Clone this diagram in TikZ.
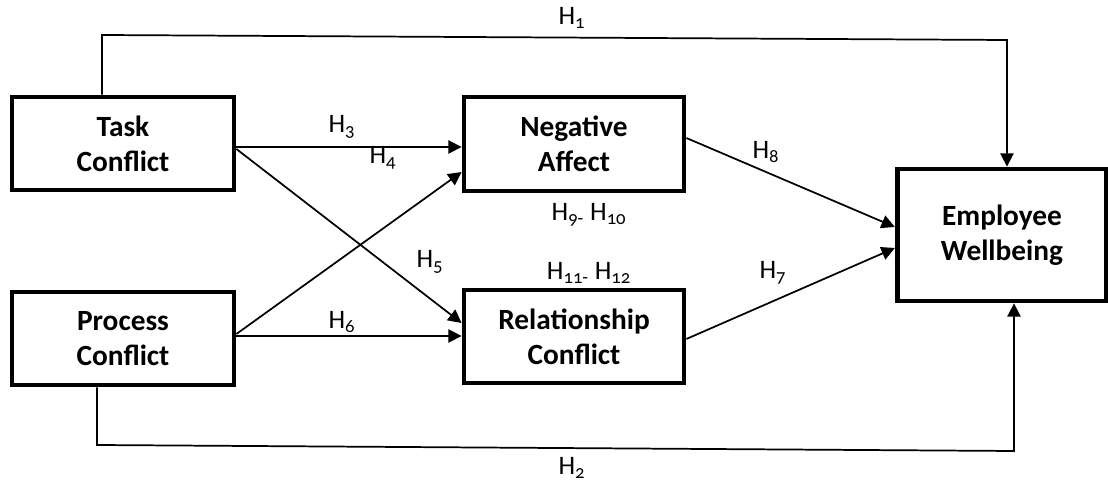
\documentclass[tikz,border=0pt]{standalone}
\usepackage{fontspec}
\setmainfont{Carlito}[Numbers=OldStyle]
\usetikzlibrary{arrows.meta}
\newcommand{\Hs}[1]{H\textsubscript{#1}}
\tikzset{
  box/.style={draw, line width=3.6pt, rectangle, align=center, inner sep=0pt,
    font=\fontsize{22}{26}\selectfont\bfseries},
  conn/.style={line width=1.3pt},
  arr/.style={conn, -{Triangle[length=10pt,width=10pt]}},
  lab/.style={font=\fontsize{20}{24}\selectfont, inner sep=0pt}
}
\begin{document}
\begin{tikzpicture}[x=0.75pt,y=-0.75pt]
\useasboundingbox[fill=white] (0,0) rectangle (1108,484);
% boxes
\node[box, minimum width=222*0.75pt, minimum height=93*0.75pt] (task) at (123,143.5) {Task\\Conflict};
\node[box, minimum width=222*0.75pt, minimum height=93*0.75pt] (proc) at (123,338.5) {Process\\Conflict};
\node[box, minimum width=220*0.75pt, minimum height=94*0.75pt] (neg) at (574,144) {Negative\\Affect};
\node[box, minimum width=220*0.75pt, minimum height=93*0.75pt] (rel) at (574,336.5) {Relationship\\Conflict};
\node[box, minimum width=209.5*0.75pt, minimum height=132*0.75pt] (emp) at (1002,235) {Employee\\Wellbeing};
% routing coordinates
\coordinate (h1l) at (102,35);
\coordinate (h1r) at (1007,40);
\coordinate (h2l) at (97,445);
\coordinate (h2r) at (1014,451);
% connectors
\draw[arr] (h1l |- task.north) -- (h1l) -- (h1r) -- (h1r |- emp.north);
\draw[arr] (h2l |- proc.south) -- (h2l) -- (h2r) -- (h2r |- emp.south);
\draw[arr] (task.east |- 0,147) -- (neg.west |- 0,147);
\draw[arr] (task.east |- 0,149) -- (rel.west |- 0,323);
\draw[arr] (proc.east |- 0,334) -- (neg.west |- 0,172);
\draw[arr] (proc.east |- 0,336) -- (rel.west |- 0,336);
\draw[arr] (neg.east |- 0,138) -- (emp.west |- 0,227);
\draw[arr] (rel.east |- 0,339) -- (emp.west |- 0,248);
% labels
\node[lab] (l1) at (572,18) {\Hs{1}};
\node[lab] (l2) at (572,468) {\Hs{2}};
\node[lab] (l3) at (342,127) {\Hs{3}};
\node[lab] (l4) at (383,158) {\Hs{4}};
\node[lab] (l5) at (430,262) {\Hs{5}};
\node[lab] (l6) at (342,322) {\Hs{6}};
\node[lab] (l8) at (766,152) {\Hs{8}};
\node[lab] (l7) at (773,273) {\Hs{7}};
\node[lab] (l910) at (589,215) {\Hs{9-} \Hs{10}};
\node[lab] (l1112) at (589,273) {\Hs{11-} \Hs{12}};
\end{tikzpicture}
\end{document}
